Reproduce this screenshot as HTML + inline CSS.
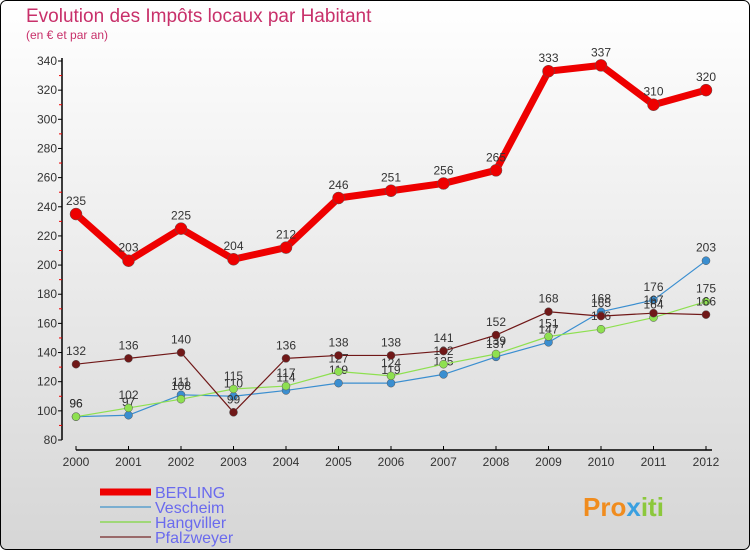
<!DOCTYPE html>
<html><head><meta charset="utf-8"><style>
body{margin:0;width:750px;height:550px;overflow:hidden;font-family:"Liberation Sans",sans-serif}
</style></head><body>
<svg width="750" height="550" xmlns="http://www.w3.org/2000/svg">
<defs><linearGradient id="bg" x1="0" y1="0" x2="0" y2="1"><stop offset="0" stop-color="#ffffff"/><stop offset="1" stop-color="#d6d6d6"/></linearGradient></defs>
<rect x="0.5" y="0.5" width="749" height="549" rx="6" fill="url(#bg)" stroke="#000"/>
<text x="26" y="22" font-size="19" fill="#c8306a">Evolution des Impôts locaux par Habitant</text>
<text x="26" y="39" font-size="12" fill="#c8306a">(en € et par an)</text>
<g id="axes"></g>
<g id="series"></g>
<g id="legend"></g>
<text x="583" y="516" font-size="26" font-weight="bold"><tspan fill="#f08c1e">Pro</tspan><tspan fill="#3aa0e0">x</tspan><tspan fill="#8cc83c">iti</tspan></text>
</svg>
<script>
const years=[2000,2001,2002,2003,2004,2005,2006,2007,2008,2009,2010,2011,2012];
const yTicks=[80,100,120,140,160,180,200,220,240,260,280,300,320,340];
const berling=[235,203,225,204,212,246,251,256,265,333,337,310,320];
const vescheim=[96,97,111,110,114,119,119,125,137,147,168,176,203];
const hangviller=[96,102,108,115,117,127,124,132,139,151,156,164,175];
const pfalzweyer=[132,136,140,99,136,138,138,141,152,168,165,167,166];
const NS="http://www.w3.org/2000/svg";
function X(i){return 76+i*(706-76)/(years.length-1);}
function Y(v){return 440-(v-80)*(440-61)/(340-80);}
function mk(tag,attrs,parent){const e=document.createElementNS(NS,tag);for(const k in attrs)e.setAttribute(k,attrs[k]);parent.appendChild(e);return e;}
const axes=document.getElementById('axes');
let yl=mk('line',{x1:62,y1:58,x2:62,y2:440,stroke:'#000','stroke-width':1.5},axes);


yTicks.forEach((t,k)=>{
 mk('line',{x1:58,x2:62,y1:Y(t),y2:Y(t),stroke:'#000'},axes);
 if(k<yTicks.length-1)mk('line',{x1:59,x2:62,y1:Y(t+10),y2:Y(t+10),stroke:'#e00'},axes);
 const tx=mk('text',{x:57,y:Y(t)+4,'text-anchor':'end','font-size':12,fill:'#333'},axes);
 tx.textContent=t;
 
 
});
let xl=mk('line',{x1:76,y1:450,x2:712,y2:450,stroke:'#000','stroke-width':1.5},axes);


years.forEach((yr,i)=>{
 mk('line',{x1:X(i),x2:X(i),y1:446,y2:450,stroke:'#000'},axes);
 const tx=mk('text',{x:X(i),y:466,'text-anchor':'middle','font-size':12,fill:'#333'},axes);
 tx.textContent=yr;
 
 
});
const ser=document.getElementById('series');
function draw(data,name,color,w,r){
 const g=mk('g',{},ser);
 
 
 const pl=mk('polyline',{points:data.map((v,i)=>X(i)+','+Y(v)).join(' '),fill:'none',stroke:color,'stroke-width':w,'stroke-linejoin':'round'},g);
 
 
 data.forEach((v,i)=>{
  const c=mk('circle',{cx:X(i),cy:Y(v),r:r,fill:color,stroke:'#555','stroke-width':0.5},g);
  
  
  const t=mk('text',{x:X(i),y:Y(v)-9,'text-anchor':'middle','font-size':12,fill:'#333'},g);
  t.textContent=v;
  
  
 });
}
draw(vescheim,'vescheim','#3a8ed0',1.2,4);
draw(hangviller,'hangviller','#8ee050',1.2,4);
draw(pfalzweyer,'pfalzweyer','#701818',1.2,4);
draw(berling,'berling','#ee0000',7,6);
const lg=document.getElementById('legend');
[['BERLING','#ee0000',7],['Vescheim','#7aaed0',2],['Hangviller','#a0d878',2],['Pfalzweyer','#9a6a6a',2]].forEach((d,k)=>{
 const y=492+k*15;
 const g=mk('g',{},lg);
 
 
 mk('line',{x1:100,x2:151,y1:y,y2:y,stroke:d[1],'stroke-width':d[2]},g);
 const t=mk('text',{x:155,y:y+6,'font-size':16,fill:'#6a6aee'},g);
 t.textContent=d[0];
});
</script>
</body></html>
